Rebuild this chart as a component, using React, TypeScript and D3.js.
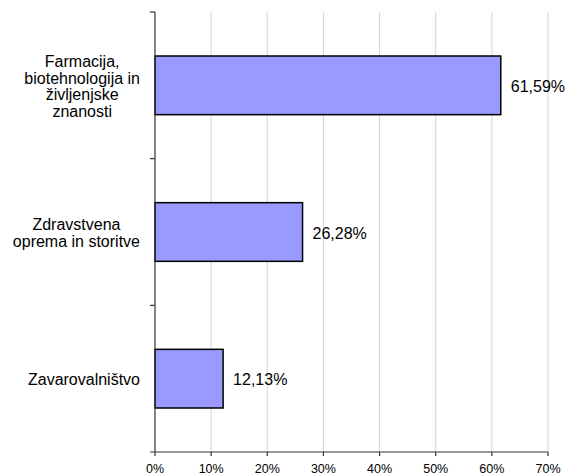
import { useRef, useEffect } from "react";
import * as d3 from "d3";

const categories = [
  ["Farmacija,", "biotehnologija in", "življenjske", "znanosti"],
  ["Zdravstvena", "oprema in storitve"],
  ["Zavarovalništvo"],
];
const values = [61.59, 26.28, 12.13];
const valueLabels = ["61,59%", "26,28%", "12,13%"];
const xTicks = [0, 10, 20, 30, 40, 50, 60, 70];

const W = 567;
const H = 475;

const App = () => {
  const svgRef = useRef<SVGSVGElement | null>(null);

  useEffect(() => {
    document.body.style.margin = "0";
    if (!svgRef.current) return;
    const svg = d3.select(svgRef.current);
    svg.selectAll("*").remove();

    const left = 155;
    const top = 12;
    const bottom = 452;
    const font = "Arial, 'Liberation Sans', sans-serif";

    const x = d3.scaleLinear().domain([0, 70]).range([left, 548]);
    const y = d3
      .scaleBand<number>()
      .domain(d3.range(categories.length))
      .range([top, bottom])
      .paddingInner(0.6)
      .paddingOuter(0.3);

    // gridlines
    svg
      .append("g")
      .selectAll("line")
      .data(xTicks.slice(1))
      .join("line")
      .attr("x1", (d) => x(d))
      .attr("x2", (d) => x(d))
      .attr("y1", top)
      .attr("y2", bottom)
      .attr("stroke", "#d4d4d4")
      .attr("stroke-width", 1);

    // bars
    svg
      .append("g")
      .selectAll("rect")
      .data(values)
      .join("rect")
      .attr("x", x(0))
      .attr("y", (_, i) => y(i)!)
      .attr("width", (d) => x(d) - x(0))
      .attr("height", y.bandwidth())
      .attr("fill", "#9999ff")
      .attr("stroke", "#000")
      .attr("stroke-width", 1.5);

    // y axis line + category boundary ticks
    const step = (bottom - top) / categories.length;
    svg
      .append("line")
      .attr("x1", left)
      .attr("x2", left)
      .attr("y1", top)
      .attr("y2", bottom)
      .attr("stroke", "#333")
      .attr("stroke-width", 1.2);
    svg
      .append("g")
      .selectAll("line")
      .data(d3.range(categories.length))
      .join("line")
      .attr("x1", left - 5)
      .attr("x2", left)
      .attr("y1", (d) => top + d * step)
      .attr("y2", (d) => top + d * step)
      .attr("stroke", "#333")
      .attr("stroke-width", 1.2);

    // x axis
    svg
      .append("line")
      .attr("x1", left - 5)
      .attr("x2", x(70))
      .attr("y1", bottom)
      .attr("y2", bottom)
      .attr("stroke", "#333")
      .attr("stroke-width", 1.2);
    svg
      .append("g")
      .selectAll("line")
      .data(xTicks)
      .join("line")
      .attr("x1", (d) => x(d))
      .attr("x2", (d) => x(d))
      .attr("y1", bottom)
      .attr("y2", bottom + 4)
      .attr("stroke", "#333")
      .attr("stroke-width", 1.2);
    svg
      .append("g")
      .selectAll("text")
      .data(xTicks)
      .join("text")
      .attr("x", (d) => x(d))
      .attr("y", 473)
      .attr("text-anchor", "middle")
      .attr("font-family", font)
      .attr("font-size", 12.5)
      .attr("fill", "#000")
      .text((d) => `${d}%`);

    // value labels
    svg
      .append("g")
      .selectAll("text")
      .data(values)
      .join("text")
      .attr("x", (d) => x(d) + 10)
      .attr("y", (_, i) => y(i)! + y.bandwidth() / 2 + 1)
      .attr("dominant-baseline", "central")
      .attr("font-family", font)
      .attr("font-size", 16)
      .attr("fill", "#000")
      .text((_, i) => valueLabels[i]);

    // category labels, lines centred within a block right-aligned at x=140
    const lineH = 16.5;
    categories.forEach((lines, i) => {
      const cy = y(i)! + y.bandwidth() / 2 + 1;
      const g = svg.append("g");
      const texts = g
        .selectAll("text")
        .data(lines)
        .join("text")
        .attr("y", (_, j) => cy + (j - (lines.length - 1) / 2) * lineH)
        .attr("dominant-baseline", "central")
        .attr("text-anchor", "middle")
        .attr("font-family", font)
        .attr("font-size", 16)
        .attr("fill", "#000")
        .text((d) => d);
      let maxW = 0;
      texts.each(function () {
        maxW = Math.max(maxW, (this as SVGTextElement).getComputedTextLength());
      });
      texts.attr("x", 140 - maxW / 2);
    });
  }, []);

  return <svg ref={svgRef} width={W} height={H} style={{ display: "block", background: "#fff" }}></svg>;
};

export default App;
